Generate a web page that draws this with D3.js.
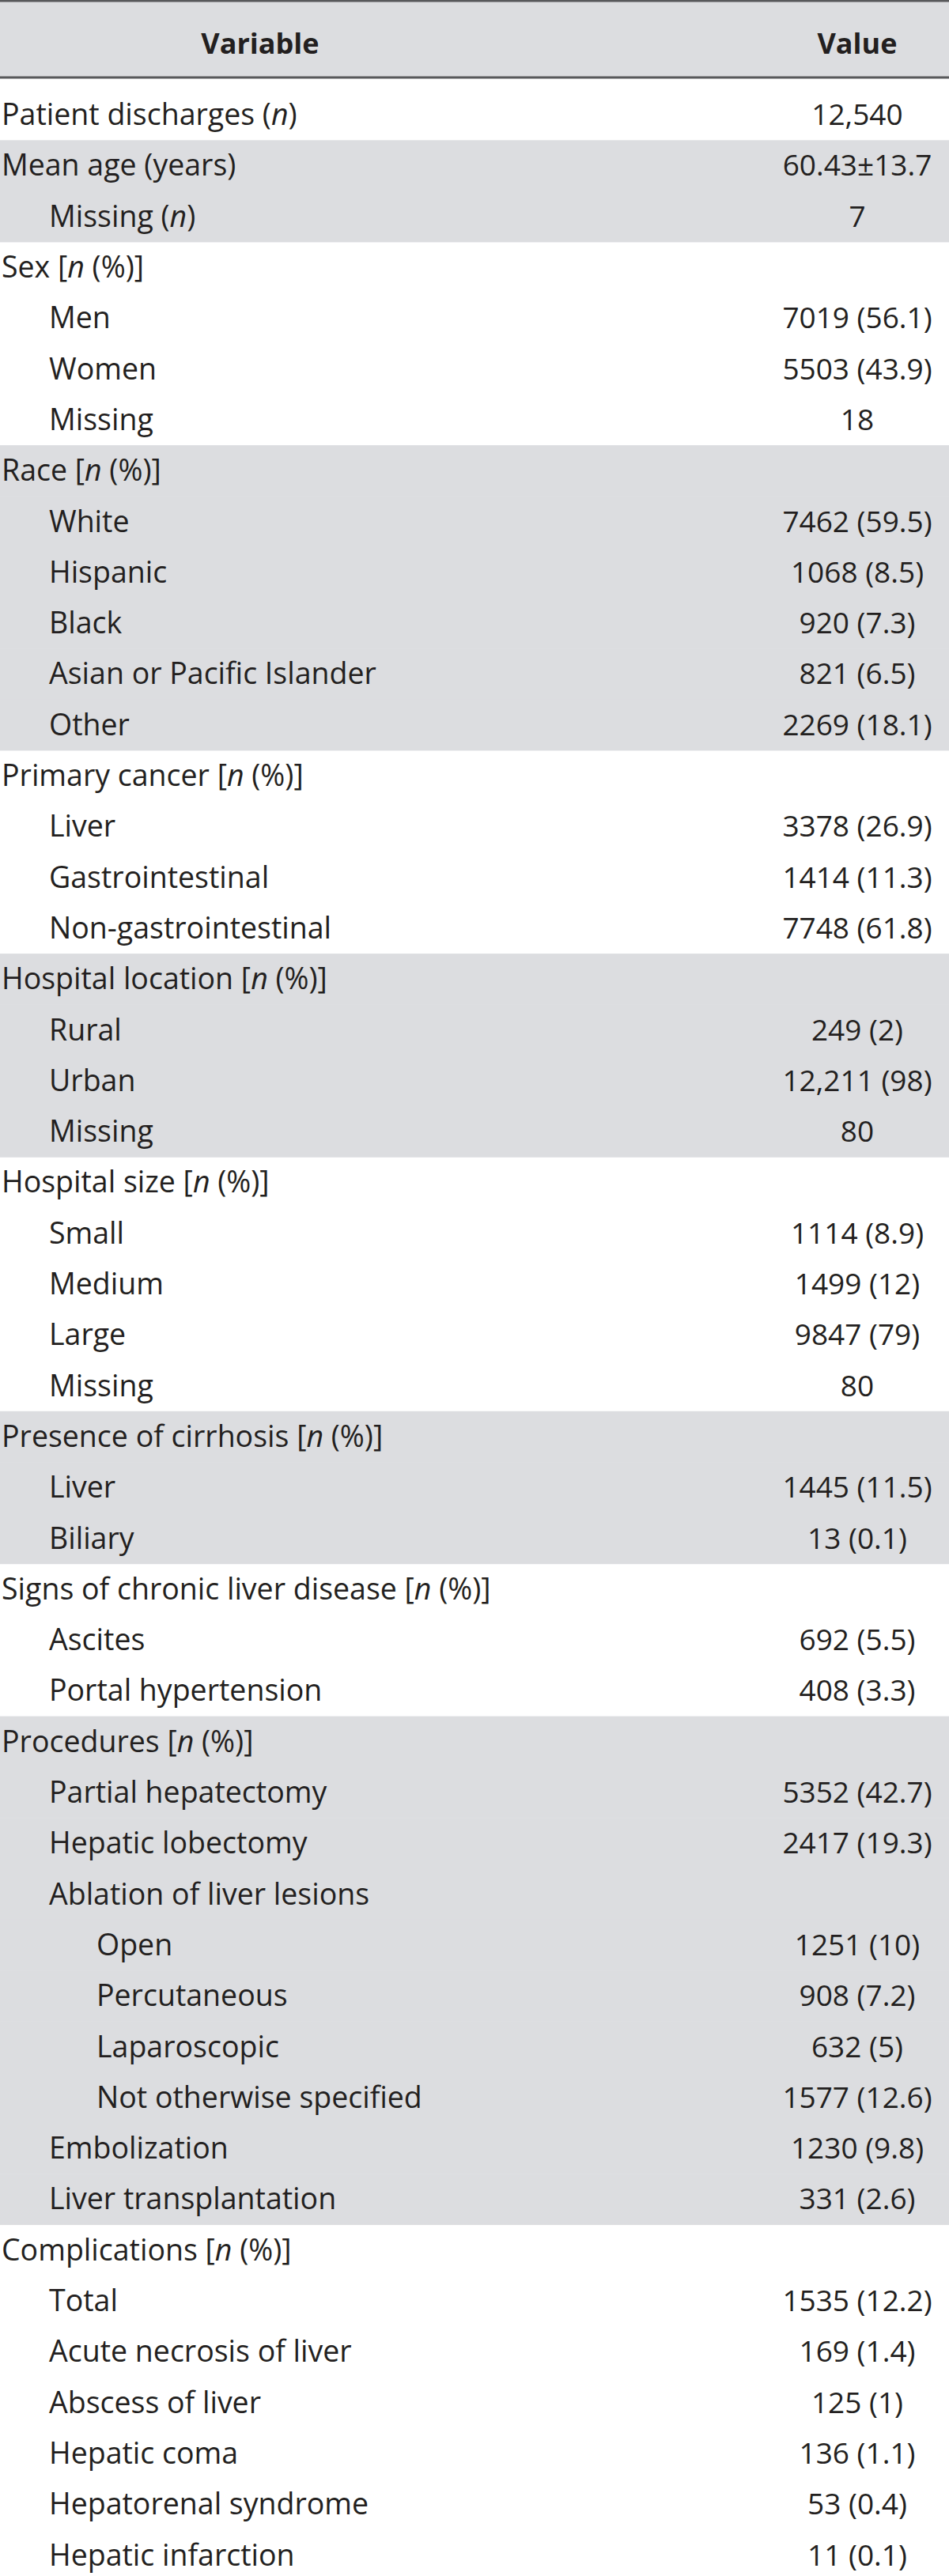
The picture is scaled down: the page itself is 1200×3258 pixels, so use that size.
<!DOCTYPE html>
<html>
<head>
<meta charset="utf-8">
<script src="https://cdn.jsdelivr.net/npm/d3@7"></script>
<style>
  body { margin: 0; background: #fff; }
  svg { display: block; font-family: "Open Sans", sans-serif; }
</style>
</head>
<body>
<div id="table"></div>
<script>
// table content, {n} marks the italic n
var labels = [
    "Patient discharges ({n})", "Mean age (years)", "Missing ({n})",
    "Sex [{n} (%)]", "Men", "Women", "Missing",
    "Race [{n} (%)]", "White", "Hispanic", "Black", "Asian or Pacific Islander", "Other",
    "Primary cancer [{n} (%)]", "Liver", "Gastrointestinal", "Non-gastrointestinal",
    "Hospital location [{n} (%)]", "Rural", "Urban", "Missing",
    "Hospital size [{n} (%)]", "Small", "Medium", "Large", "Missing",
    "Presence of cirrhosis [{n} (%)]", "Liver", "Biliary",
    "Signs of chronic liver disease [{n} (%)]", "Ascites", "Portal hypertension",
    "Procedures [{n} (%)]", "Partial hepatectomy", "Hepatic lobectomy", "Ablation of liver lesions",
    "Open", "Percutaneous", "Laparoscopic", "Not otherwise specified", "Embolization", "Liver transplantation",
    "Complications [{n} (%)]", "Total", "Acute necrosis of liver", "Abscess of liver",
    "Hepatic coma", "Hepatorenal syndrome", "Hepatic infarction"
];

var values = [
    "12,540", "60.43±13.7", "7",
    "", "7019 (56.1)", "5503 (43.9)", "18",
    "", "7462 (59.5)", "1068 (8.5)", "920 (7.3)", "821 (6.5)", "2269 (18.1)",
    "", "3378 (26.9)", "1414 (11.3)", "7748 (61.8)",
    "", "249 (2)", "12,211 (98)", "80",
    "", "1114 (8.9)", "1499 (12)", "9847 (79)", "80",
    "", "1445 (11.5)", "13 (0.1)",
    "", "692 (5.5)", "408 (3.3)",
    "", "5352 (42.7)", "2417 (19.3)", "",
    "1251 (10)", "908 (7.2)", "632 (5)", "1577 (12.6)", "1230 (9.8)", "331 (2.6)",
    "", "1535 (12.2)", "169 (1.4)", "125 (1)",
    "136 (1.1)", "53 (0.4)", "11 (0.1)"
];

var indents = [
    0, 0, 1,
    0, 1, 1, 1,
    0, 1, 1, 1, 1, 1,
    0, 1, 1, 1,
    0, 1, 1, 1,
    0, 1, 1, 1, 1,
    0, 1, 1,
    0, 1, 1,
    0, 1, 1, 1,
    2, 2, 2, 2, 1, 1,
    0, 1, 1, 1,
    1, 1, 1
];

// group number of each row, odd groups are shaded
var groups = [
    0, 1, 1,
    2, 2, 2, 2,
    3, 3, 3, 3, 3, 3,
    4, 4, 4, 4,
    5, 5, 5, 5,
    6, 6, 6, 6, 6,
    7, 7, 7,
    8, 8, 8,
    9, 9, 9, 9, 9, 9, 9, 9, 9, 9,
    10, 10, 10, 10, 10, 10, 10
];

var columns = ["Variable", "Value"];

var width = 1200, height = 3258;
var headTop = 1, headBottom = 98, bodyTop = 113, rowH = 64.3;

var svg = d3.select("#table").append("svg")
    .attr("width", width)
    .attr("height", height);

var y = d3.scaleBand()
    .domain(d3.range(labels.length))
    .range([bodyTop, bodyTop + labels.length * rowH])
    .padding(0);

var x = d3.scaleOrdinal()
    .domain(columns)
    .range([329, 1084]);

// header
svg.append("rect")
    .attr("x", 0).attr("y", headTop)
    .attr("width", width).attr("height", headBottom - headTop)
    .style("fill", "#dcdde0");

svg.append("line")
    .attr("x1", 0).attr("x2", width)
    .attr("y1", 1).attr("y2", 1)
    .style("stroke", "#58595b").style("stroke-width", 3);

svg.append("line")
    .attr("x1", 0).attr("x2", width)
    .attr("y1", headBottom).attr("y2", headBottom)
    .style("stroke", "#58595b").style("stroke-width", 3);

svg.selectAll("text.head")
    .data(columns)
    .enter()
    .append("text")
    .attr("class", "head")
    .attr("x", function (d) { return x(d); })
    .attr("y", 68)
    .attr("text-anchor", "middle")
    .style("font-size", "36px")
    .style("font-weight", "bold")
    .style("fill", "#231f20")
    .text(function (d) { return d; });

// shaded bands
svg.selectAll("rect.band")
    .data(d3.range(labels.length).filter(function (i) { return groups[i] % 2 === 1; }))
    .enter()
    .append("rect")
    .attr("class", "band")
    .attr("x", 0)
    .attr("y", function (i) { return y(i); })
    .attr("width", width)
    .attr("height", y.bandwidth() + 0.5)
    .style("fill", "#dcdde0");

// rows
var rows = svg.selectAll("g.row")
    .data(d3.range(labels.length))
    .enter()
    .append("g")
    .attr("class", "row")
    .attr("transform", function (i) { return "translate(0," + (y(i) + y.bandwidth() / 2 + 13) + ")"; });

rows.append("text")
    .attr("x", function (i) { return 2 + indents[i] * 60; })
    .style("font-size", "37.5px")
    .style("fill", "#231f20")
    .each(function (i) {
        var t = d3.select(this);
        labels[i].split(/(\{n\})/).forEach(function (part) {
            if (part === "") return;
            if (part === "{n}") t.append("tspan").style("font-style", "italic").text("n");
            else t.append("tspan").text(part);
        });
    });

rows.append("text")
    .attr("x", x("Value"))
    .attr("text-anchor", "middle")
    .style("font-size", "37px")
    .style("fill", "#231f20")
    .text(function (i) { return values[i]; });
</script>
</body>
</html>
